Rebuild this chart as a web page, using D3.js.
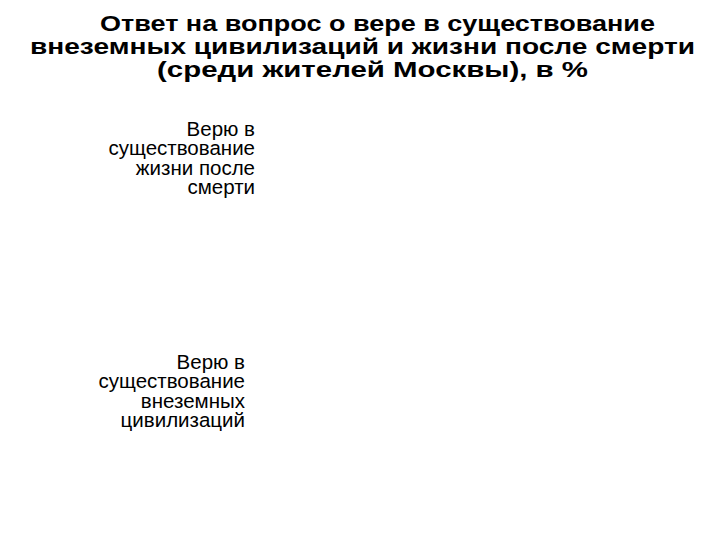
<!DOCTYPE html>
<html><head><meta charset="utf-8">
<script src="https://cdn.jsdelivr.net/npm/d3@7"></script>
<style>body{margin:0;background:#fff}</style>
</head><body>
<script>
const titleLines = ["Ответ на вопрос о вере в существование","внеземных цивилизаций и жизни после смерти","(среди жителей Москвы), в %"];
const categories = [
  ["Верю в","существование","жизни после","смерти"],
  ["Верю в","существование","внеземных","цивилизаций"]
];
const categoryKeys = ["afterlife","aliens"];

const W=720,H=540;
const svg=d3.select("body").append("svg").attr("width",W).attr("height",H);

// title
const titleLayout=[{x:100,len:555,y:31},{x:30,len:665,y:54},{x:157,len:431,y:77}];
svg.append("g").selectAll("text").data(titleLines).join("text")
  .attr("x",(d,i)=>titleLayout[i].x).attr("y",(d,i)=>titleLayout[i].y)
  .attr("textLength",(d,i)=>titleLayout[i].len).attr("lengthAdjust","spacingAndGlyphs")
  .attr("font-family","Liberation Sans, Arial, sans-serif").attr("font-weight","bold")
  .attr("font-size",22).attr("fill","#000").text(d=>d);

// category axis
const y=d3.scaleBand().domain(categoryKeys).range([18,531]).padding(0.2);
const labelRight=[255,245];
const g=svg.append("g");
categoryKeys.forEach((k,i)=>{
  const lines=categories[i];
  const lh=19.5;
  const cy=y(k)+y.bandwidth()/2;
  const t=g.append("text").attr("text-anchor","end")
    .attr("font-family","Liberation Sans, Arial, sans-serif").attr("font-size",20.5).attr("fill","#000");
  lines.forEach((ln,j)=>{
    t.append("tspan").attr("x",labelRight[i]).attr("y",cy+(j-(lines.length-1)/2)*lh+7).text(ln);
  });
});
</script>
</body></html>
